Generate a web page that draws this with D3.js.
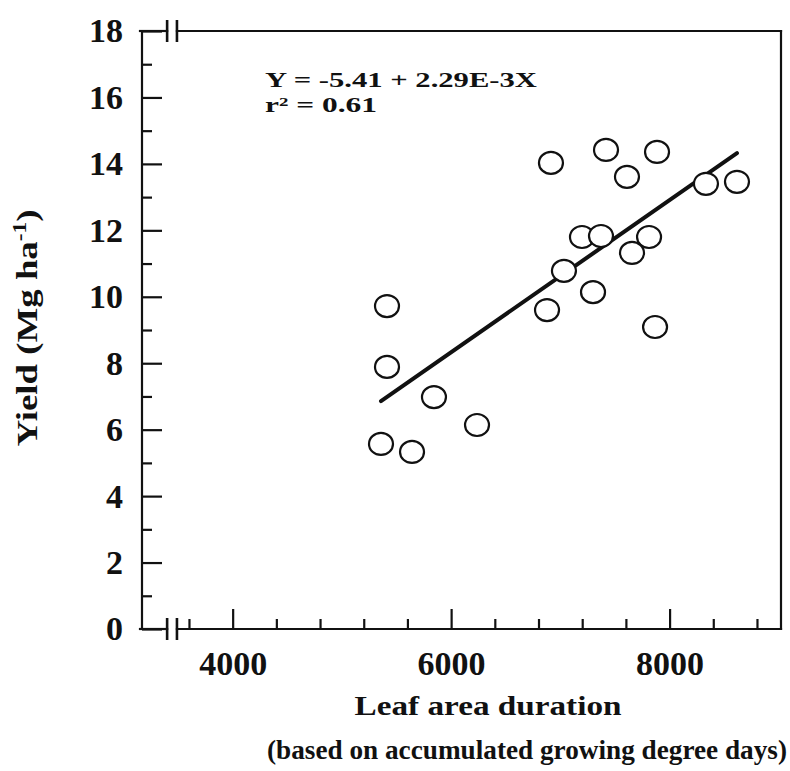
<!DOCTYPE html>
<html>
<head>
<meta charset="utf-8">
<script src="https://cdn.jsdelivr.net/npm/d3@7"></script>
<style>
  html, body { margin: 0; padding: 0; background: #fff; }
  svg { display: block; }
  text { font-family: "Liberation Serif", "Times New Roman", serif; font-weight: bold; fill: #111; }
</style>
</head>
<body>
<svg id="chart" width="790" height="771"></svg>
<script>
// Leaf area duration (GDD basis) vs. grain yield
const leafAreaDuration = [5413, 5413, 5843, 6237, 5358, 5642, 6914, 7418, 7885, 7610,
                          8333, 8617, 7198, 7372, 7812, 7656, 7033, 7299, 6878, 7867];
const yieldMg = [9.72, 7.89, 6.98, 6.14, 5.57, 5.33, 14.03, 14.42, 14.36, 13.61,
                 13.40, 13.46, 11.80, 11.83, 11.80, 11.32, 10.78, 10.14, 9.60, 9.09];

// Fitted regression Y = a + bX
const intercept = -5.41;
const slope = 2.29e-3;
const rSquared = 0.61;

const xTicks = d3.range(3600, 8801, 400);
const xLabelTicks = [4000, 6000, 8000];
const yTicks = d3.range(0, 19, 1);
const yLabelTicks = d3.range(0, 19, 2);
const xBreak = [3400, 3490];

const svg = d3.select("#chart");
const frame = { left: 142, right: 781, top: 31, bottom: 629 };

const x = d3.scaleLinear().domain([3170, 9020]).range([frame.left, frame.right]);
const y = d3.scaleLinear().domain([0, 18]).range([frame.bottom, frame.top]);

const ink = "#111";
const axisW = 2.2;

// Y axis ticks (inward), labels on even values
const yAxis = d3.axisLeft(y).tickValues(yTicks).tickSizeInner(-20).tickSizeOuter(0).tickPadding(19)
  .tickFormat(d => yLabelTicks.includes(d) ? d : "");
const gy = svg.append("g").attr("transform", `translate(${frame.left},0)`).call(yAxis);
gy.select(".domain").remove();
gy.selectAll(".tick line").attr("stroke", ink).attr("stroke-width", axisW)
  .attr("x2", d => yLabelTicks.includes(d) ? 20 : 10);
gy.selectAll(".tick text").style("font-size", "34px").attr("fill", ink);

// X axis ticks (inward), labels every 2000
const xAxis = d3.axisBottom(x).tickValues(xTicks).tickSizeInner(-20).tickSizeOuter(0).tickPadding(22)
  .tickFormat(d => xLabelTicks.includes(d) ? d : "");
const gx = svg.append("g").attr("transform", `translate(0,${frame.bottom})`).call(xAxis);
gx.select(".domain").remove();
gx.selectAll(".tick line").attr("stroke", ink).attr("stroke-width", axisW)
  .attr("y2", d => xLabelTicks.includes(d) ? -20 : -10);
gx.selectAll(".tick text").style("font-size", "34px").attr("fill", ink);

// Frame with axis break on the horizontal edges
const fr = svg.append("g").attr("stroke", ink).attr("stroke-width", axisW).attr("fill", "none")
  .attr("stroke-linecap", "square");
const bx0 = x(xBreak[0]), bx1 = x(xBreak[1]);
fr.append("line").attr("x1", frame.left).attr("x2", frame.left).attr("y1", frame.top).attr("y2", frame.bottom);
fr.append("line").attr("x1", frame.right).attr("x2", frame.right).attr("y1", frame.top).attr("y2", frame.bottom);
[frame.top, frame.bottom].forEach(yy => {
  fr.append("line").attr("x1", frame.left - 2).attr("x2", bx0).attr("y1", yy).attr("y2", yy);
  fr.append("line").attr("x1", bx1).attr("x2", frame.right).attr("y1", yy).attr("y2", yy);
  [bx0, bx1].forEach(bx => {
    fr.append("line").attr("x1", bx).attr("x2", bx).attr("y1", yy - 11).attr("y2", yy + 11)
      .attr("stroke-linecap", "butt").attr("stroke-width", 2.6);
  });
});

// Regression line over the observed range
const xMin = d3.min(leafAreaDuration), xMax = d3.max(leafAreaDuration);
svg.append("line")
  .attr("x1", x(xMin)).attr("y1", y(intercept + slope * xMin))
  .attr("x2", x(xMax)).attr("y2", y(intercept + slope * xMax))
  .attr("stroke", ink).attr("stroke-width", 4).attr("stroke-linecap", "round");

// Observations as open circles
svg.append("g").selectAll("ellipse")
  .data(leafAreaDuration.map((v, i) => [v, yieldMg[i]]))
  .join("ellipse")
  .attr("cx", d => x(d[0])).attr("cy", d => y(d[1]))
  .attr("rx", 12).attr("ry", 11)
  .attr("fill", "#fff").attr("stroke", ink).attr("stroke-width", 2.2);

// Equation annotation
const ann = svg.append("g");
ann.append("text").attr("x", 265).attr("y", 87).style("font-size", "20px")
  .attr("textLength", 272).attr("lengthAdjust", "spacingAndGlyphs")
  .text(`Y = ${intercept} + ${(slope * 1000).toFixed(2)}E-3X`);
const r2 = ann.append("text").attr("x", 265).attr("y", 112).style("font-size", "20px")
  .attr("textLength", 112).attr("lengthAdjust", "spacingAndGlyphs");
r2.append("tspan").text("r");
r2.append("tspan").attr("dy", -6).style("font-size", "12px").text("2");
r2.append("tspan").attr("dy", 6).text(` = ${rSquared}`);

// Axis titles
const yt = svg.append("text")
  .attr("transform", `translate(37,328) rotate(-90)`)
  .attr("text-anchor", "middle").style("font-size", "30px")
  .attr("textLength", 237).attr("lengthAdjust", "spacingAndGlyphs");
yt.append("tspan").text("Yield (Mg ha");
yt.append("tspan").attr("dy", -11).style("font-size", "19px").text("-1");
yt.append("tspan").attr("dy", 11).text(")");

svg.append("text").attr("x", 488).attr("y", 715).attr("text-anchor", "middle")
  .style("font-size", "27px").attr("textLength", 267).attr("lengthAdjust", "spacingAndGlyphs")
  .text("Leaf area duration");
svg.append("text").attr("x", 527).attr("y", 759).attr("text-anchor", "middle")
  .style("font-size", "27px").attr("textLength", 520).attr("lengthAdjust", "spacingAndGlyphs")
  .text("(based on accumulated growing degree days)");
</script>
</body>
</html>
